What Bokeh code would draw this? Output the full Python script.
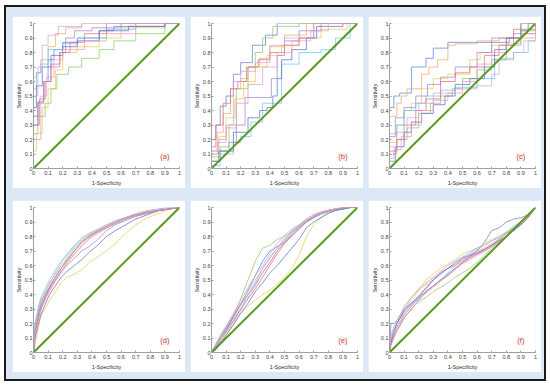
from bokeh.plotting import figure
from bokeh.models import Range1d, FixedTicker, Label, GridBox
from bokeh.embed import file_html
from bokeh.resources import INLINE

PANEL_LABELS = ["(a)", "(b)", "(c)", "(d)", "(e)", "(f)"]
X_LABEL = "1-Specificity"
Y_LABEL = "Sensitivity"
TICKS = [0, 0.1, 0.2, 0.3, 0.4, 0.5, 0.6, 0.7, 0.8, 0.9, 1]
COLORS = ["#5b7fd8", "#f2a46c", "#e6cc4c", "#a57fcc", "#8cc663",
          "#6cc6ec", "#e66a78", "#5a6cc4", "#c9a4e2", "#f095bd"]
E_COLORS = ["#8cc663", "#5b7fd8", "#f2a46c", "#e6cc4c", "#a57fcc",
            "#6cc6ec", "#e66a78", "#5a6cc4", "#c9a4e2", "#f095bd"]

# ---- panel (a): staircase ROC curves (run end x, level) ----
a_x = [
    [0, 0.03, 0.07, 0.1, 0.14, 0.2, 0.3, 0.45, 0.55, 0.9, 1],
    [0, 0.02, 0.05, 0.1, 0.15, 0.22, 0.33, 1],
    [0, 0.02, 0.06, 0.1, 0.15, 0.2, 0.3, 0.45, 0.6, 0.9, 1],
    [0, 0.04, 0.08, 0.12, 0.18, 0.22, 0.28, 0.4, 0.6, 1],
    [0, 0.03, 0.08, 0.12, 0.16, 0.24, 0.33, 0.45, 0.55, 0.7, 0.9, 1],
    [0, 0.02, 0.05, 0.1, 0.2, 0.3, 0.5, 0.7, 1],
    [0, 0.03, 0.07, 0.12, 0.18, 0.25, 0.35, 0.5, 1],
    [0, 0.02, 0.06, 0.12, 0.2, 0.3, 0.45, 0.65, 0.9, 1],
    [0, 0.03, 0.06, 0.1, 0.17, 0.33, 1],
    [0, 0.05, 0.09, 0.14, 0.2, 0.35, 0.5, 0.7, 1],
]
a_y = [
    [0, 0.36, 0.46, 0.6, 0.75, 0.82, 0.87, 0.9, 0.95, 0.98, 1],
    [0, 0.63, 0.66, 0.75, 0.84, 0.93, 0.97, 1],
    [0, 0.12, 0.24, 0.42, 0.55, 0.68, 0.8, 0.84, 0.9, 0.97, 1],
    [0, 0.3, 0.48, 0.6, 0.7, 0.8, 0.9, 0.95, 0.97, 1],
    [0, 0.24, 0.36, 0.45, 0.55, 0.65, 0.7, 0.76, 0.82, 0.88, 0.93, 1],
    [0, 0.55, 0.66, 0.72, 0.82, 0.86, 0.9, 0.96, 1],
    [0, 0.3, 0.45, 0.6, 0.72, 0.8, 0.87, 0.93, 1],
    [0, 0.42, 0.57, 0.7, 0.78, 0.84, 0.88, 0.95, 0.98, 1],
    [0, 0.5, 0.7, 0.85, 0.92, 0.98, 1],
    [0, 0.2, 0.5, 0.63, 0.75, 0.82, 0.88, 0.93, 1],
]

# ---- panel (b) ----
b_x = [
    [0, 0.03, 0.06, 0.1, 0.15, 0.2, 0.28, 0.37, 0.45, 1],
    [0, 0.04, 0.08, 0.13, 0.2, 0.25, 0.33, 0.4, 0.5, 0.65, 1],
    [0, 0.05, 0.1, 0.16, 0.22, 0.3, 0.38, 0.48, 0.6, 0.75, 0.93, 1],
    [0, 0.06, 0.12, 0.17, 0.23, 0.41, 0.45, 0.5, 0.6, 0.75, 1],
    [0, 0.06, 0.12, 0.17, 0.25, 0.3, 0.35, 0.42, 0.6, 1],
    [0, 0.06, 0.15, 0.2, 0.27, 0.35, 0.48, 0.6, 0.75, 0.85, 0.95, 1],
    [0, 0.03, 0.08, 0.13, 0.18, 0.24, 0.32, 0.4, 0.5, 0.6, 0.7, 1],
    [0, 0.05, 0.15, 0.25, 0.33, 0.38, 0.42, 0.45, 0.48, 0.55, 0.65, 0.72, 0.9, 1],
    [0, 0.04, 0.1, 0.15, 0.2, 0.3, 0.4, 0.5, 0.7, 1],
    [0, 0.05, 0.1, 0.17, 0.25, 0.35, 0.45, 0.55, 0.68, 0.8, 1],
]
b_y = [
    [0, 0.2, 0.3, 0.43, 0.5, 0.65, 0.73, 0.85, 0.92, 1],
    [0, 0.12, 0.25, 0.38, 0.55, 0.62, 0.7, 0.76, 0.84, 0.92, 1],
    [0, 0.1, 0.22, 0.35, 0.48, 0.6, 0.7, 0.78, 0.85, 0.9, 0.96, 1],
    [0, 0.05, 0.12, 0.18, 0.3, 0.49, 0.62, 0.78, 0.88, 0.95, 1],
    [0, 0.08, 0.15, 0.3, 0.55, 0.7, 0.8, 0.9, 0.98, 1],
    [0, 0.02, 0.1, 0.18, 0.22, 0.32, 0.45, 0.72, 0.8, 0.82, 0.9, 1],
    [0, 0.15, 0.3, 0.45, 0.55, 0.6, 0.7, 0.75, 0.8, 0.85, 0.9, 1],
    [0, 0.05, 0.12, 0.25, 0.35, 0.4, 0.42, 0.5, 0.62, 0.75, 0.82, 0.9, 0.98, 1],
    [0, 0.1, 0.18, 0.3, 0.6, 0.67, 0.73, 0.85, 0.9, 1],
    [0, 0.12, 0.2, 0.28, 0.45, 0.58, 0.7, 0.8, 0.88, 0.95, 1],
]

# ---- panel (c) ----
c_x = [
    [0, 0.03, 0.07, 0.15, 0.25, 0.3, 0.4, 0.82, 0.9, 0.95, 1],
    [0, 0.05, 0.08, 0.12, 0.22, 0.27, 0.33, 0.4, 0.45, 0.6, 0.75, 1],
    [0, 0.05, 0.1, 0.15, 0.22, 0.3, 0.4, 0.55, 0.62, 0.7, 0.8, 0.9, 1],
    [0, 0.04, 0.1, 0.18, 0.26, 0.35, 0.45, 0.6, 0.7, 0.85, 1],
    [0, 0.05, 0.12, 0.2, 0.28, 0.35, 0.43, 0.5, 0.6, 0.7, 0.8, 0.9, 1],
    [0, 0.05, 0.1, 0.18, 0.25, 0.35, 0.45, 0.6, 0.72, 0.85, 0.95, 1],
    [0, 0.05, 0.1, 0.18, 0.25, 0.35, 0.45, 0.55, 0.65, 0.75, 0.85, 1],
    [0, 0.04, 0.1, 0.15, 0.22, 0.3, 0.38, 0.45, 0.55, 0.65, 0.72, 0.8, 0.9, 1],
    [0, 0.05, 0.12, 0.2, 0.3, 0.45, 0.6, 0.7, 0.75, 0.85, 0.92, 1],
    [0, 0.03, 0.08, 0.15, 0.22, 0.3, 0.4, 0.5, 0.6, 0.7, 0.8, 0.9, 1],
]
c_y = [
    [0, 0.42, 0.5, 0.52, 0.7, 0.76, 0.83, 0.87, 0.9, 0.95, 1],
    [0, 0.36, 0.45, 0.5, 0.55, 0.65, 0.7, 0.75, 0.85, 0.86, 0.88, 0.9],
    [0, 0.18, 0.3, 0.4, 0.45, 0.55, 0.62, 0.65, 0.75, 0.8, 0.85, 0.9, 1],
    [0, 0.22, 0.35, 0.42, 0.5, 0.58, 0.63, 0.7, 0.8, 0.9, 0.93],
    [0, 0.1, 0.2, 0.28, 0.38, 0.45, 0.5, 0.55, 0.62, 0.68, 0.75, 0.85, 0.95],
    [0, 0.24, 0.3, 0.4, 0.45, 0.5, 0.54, 0.56, 0.62, 0.75, 0.8, 0.88],
    [0, 0.12, 0.2, 0.3, 0.4, 0.48, 0.6, 0.66, 0.7, 0.78, 0.85, 0.96],
    [0, 0.05, 0.15, 0.25, 0.32, 0.38, 0.44, 0.5, 0.58, 0.62, 0.7, 0.82, 0.9, 1],
    [0, 0.15, 0.25, 0.35, 0.45, 0.52, 0.55, 0.57, 0.65, 0.76, 0.8, 0.88],
    [0, 0.07, 0.13, 0.22, 0.3, 0.4, 0.47, 0.52, 0.6, 0.72, 0.8, 0.86, 0.93],
]

# ---- panel (d): larger samples ----
d_grid = [0, 0.01, 0.03, 0.05, 0.08, 0.11, 0.15, 0.19, 0.23, 0.28, 0.33,
          0.38, 0.44, 0.5, 0.56, 0.63, 0.7, 0.78, 0.86, 0.93, 1]
d_y = [
    [0, 0.15, 0.25, 0.33, 0.4, 0.45, 0.52, 0.58, 0.64, 0.7, 0.76, 0.8, 0.83, 0.86, 0.89, 0.92, 0.94, 0.96, 0.98, 0.99, 1],
    [0, 0.1, 0.22, 0.3, 0.37, 0.43, 0.5, 0.56, 0.62, 0.68, 0.74, 0.79, 0.83, 0.87, 0.9, 0.93, 0.95, 0.97, 0.98, 0.99, 1],
    [0, 0.05, 0.15, 0.25, 0.3, 0.36, 0.42, 0.48, 0.52, 0.54, 0.57, 0.62, 0.66, 0.7, 0.75, 0.82, 0.88, 0.93, 0.96, 0.99, 1],
    [0, 0.12, 0.22, 0.3, 0.38, 0.44, 0.5, 0.56, 0.6, 0.65, 0.7, 0.73, 0.78, 0.84, 0.88, 0.91, 0.94, 0.96, 0.98, 0.99, 1],
    [0, 0.18, 0.27, 0.35, 0.41, 0.48, 0.54, 0.6, 0.65, 0.72, 0.77, 0.81, 0.84, 0.86, 0.89, 0.92, 0.95, 0.97, 0.98, 0.99, 1],
    [0, 0.2, 0.3, 0.38, 0.44, 0.5, 0.57, 0.63, 0.68, 0.74, 0.79, 0.82, 0.85, 0.88, 0.91, 0.93, 0.95, 0.97, 0.99, 1, 1],
    [0, 0.14, 0.24, 0.31, 0.38, 0.45, 0.52, 0.58, 0.63, 0.7, 0.76, 0.8, 0.84, 0.87, 0.9, 0.93, 0.95, 0.97, 0.98, 0.99, 1],
    [0, 0.1, 0.18, 0.26, 0.33, 0.4, 0.46, 0.52, 0.56, 0.6, 0.64, 0.69, 0.74, 0.8, 0.84, 0.88, 0.92, 0.95, 0.98, 0.99, 1],
    [0, 0.16, 0.28, 0.36, 0.42, 0.47, 0.55, 0.62, 0.67, 0.73, 0.78, 0.82, 0.85, 0.88, 0.9, 0.93, 0.96, 0.98, 0.99, 1, 1],
    [0, 0.12, 0.2, 0.29, 0.36, 0.42, 0.49, 0.55, 0.61, 0.68, 0.73, 0.78, 0.82, 0.86, 0.89, 0.92, 0.94, 0.96, 0.98, 0.99, 1],
]

# ---- panel (e) ----
e_grid = [0, 0.03, 0.06, 0.1, 0.15, 0.2, 0.25, 0.3, 0.35, 0.4, 0.45, 0.5,
          0.55, 0.6, 0.65, 0.7, 0.75, 0.8, 0.85, 0.9, 0.95, 1]
e_y = [
    [0, 0.03, 0.08, 0.15, 0.25, 0.37, 0.5, 0.63, 0.72, 0.74, 0.78, 0.8, 0.83, 0.86, 0.9, 0.93, 0.96, 0.98, 0.99, 0.99, 1, 1],
    [0, 0.04, 0.1, 0.16, 0.24, 0.33, 0.43, 0.53, 0.63, 0.7, 0.73, 0.76, 0.8, 0.85, 0.9, 0.93, 0.96, 0.97, 0.98, 0.99, 1, 1],
    [0, 0.06, 0.12, 0.18, 0.26, 0.34, 0.42, 0.5, 0.58, 0.65, 0.72, 0.79, 0.84, 0.88, 0.92, 0.95, 0.97, 0.98, 0.99, 1, 1, 1],
    [0, 0.02, 0.06, 0.12, 0.2, 0.27, 0.32, 0.36, 0.4, 0.43, 0.47, 0.52, 0.58, 0.67, 0.8, 0.88, 0.93, 0.96, 0.98, 0.99, 1, 1],
    [0, 0.05, 0.1, 0.17, 0.25, 0.33, 0.4, 0.47, 0.55, 0.62, 0.7, 0.76, 0.82, 0.87, 0.91, 0.94, 0.96, 0.98, 0.99, 1, 1, 1],
    [0, 0.05, 0.1, 0.15, 0.22, 0.3, 0.4, 0.48, 0.58, 0.66, 0.72, 0.78, 0.84, 0.88, 0.9, 0.93, 0.95, 0.97, 0.98, 0.99, 1, 1],
    [0, 0.03, 0.08, 0.14, 0.22, 0.3, 0.37, 0.44, 0.52, 0.6, 0.68, 0.75, 0.81, 0.86, 0.9, 0.94, 0.96, 0.98, 0.99, 1, 1, 1],
    [0, 0.02, 0.06, 0.12, 0.19, 0.27, 0.34, 0.42, 0.48, 0.55, 0.6, 0.66, 0.72, 0.78, 0.86, 0.9, 0.93, 0.96, 0.98, 0.99, 1, 1],
    [0, 0.06, 0.11, 0.18, 0.27, 0.36, 0.45, 0.53, 0.6, 0.68, 0.75, 0.81, 0.85, 0.88, 0.92, 0.95, 0.97, 0.98, 0.99, 1, 1, 1],
    [0, 0.04, 0.08, 0.14, 0.21, 0.29, 0.38, 0.46, 0.55, 0.62, 0.7, 0.77, 0.83, 0.87, 0.91, 0.94, 0.96, 0.98, 0.99, 1, 1, 1],
]

# ---- panel (f) ----
f_grid = [0, 0.01, 0.03, 0.05, 0.08, 0.1, 0.15, 0.2, 0.25, 0.3, 0.35, 0.4,
          0.45, 0.5, 0.55, 0.6, 0.65, 0.7, 0.75, 0.8, 0.85, 0.9, 0.95, 1]
f_y = [
    [0, 0.2, 0.2, 0.22, 0.27, 0.3, 0.34, 0.38, 0.42, 0.46, 0.5, 0.54, 0.58, 0.62, 0.66, 0.7, 0.76, 0.84, 0.86, 0.9, 0.92, 0.93, 0.95, 1],
    [0, 0.08, 0.15, 0.2, 0.25, 0.3, 0.38, 0.43, 0.47, 0.51, 0.55, 0.58, 0.61, 0.64, 0.67, 0.7, 0.72, 0.75, 0.78, 0.82, 0.85, 0.88, 0.93, 1],
    [0, 0.1, 0.15, 0.2, 0.26, 0.3, 0.36, 0.43, 0.5, 0.54, 0.58, 0.61, 0.64, 0.68, 0.7, 0.72, 0.75, 0.78, 0.8, 0.83, 0.86, 0.9, 0.94, 1],
    [0, 0.06, 0.12, 0.17, 0.22, 0.26, 0.32, 0.38, 0.45, 0.5, 0.55, 0.58, 0.6, 0.63, 0.66, 0.68, 0.7, 0.73, 0.77, 0.8, 0.84, 0.88, 0.93, 1],
    [0, 0.08, 0.12, 0.15, 0.2, 0.24, 0.3, 0.35, 0.38, 0.42, 0.45, 0.48, 0.52, 0.55, 0.58, 0.62, 0.67, 0.72, 0.76, 0.8, 0.85, 0.9, 0.94, 1],
    [0, 0.1, 0.16, 0.2, 0.25, 0.28, 0.33, 0.37, 0.42, 0.46, 0.5, 0.55, 0.6, 0.65, 0.69, 0.72, 0.74, 0.77, 0.8, 0.83, 0.87, 0.9, 0.94, 1],
    [0, 0.05, 0.1, 0.15, 0.2, 0.24, 0.3, 0.36, 0.42, 0.46, 0.5, 0.53, 0.58, 0.62, 0.65, 0.68, 0.71, 0.74, 0.78, 0.82, 0.85, 0.89, 0.94, 1],
    [0, 0.07, 0.14, 0.2, 0.25, 0.29, 0.34, 0.39, 0.44, 0.5, 0.54, 0.58, 0.62, 0.65, 0.67, 0.69, 0.71, 0.74, 0.77, 0.8, 0.84, 0.88, 0.93, 1],
    [0, 0.12, 0.18, 0.22, 0.27, 0.32, 0.38, 0.44, 0.48, 0.52, 0.56, 0.6, 0.63, 0.66, 0.68, 0.71, 0.74, 0.77, 0.79, 0.82, 0.86, 0.9, 0.94, 1],
    [0, 0.09, 0.14, 0.18, 0.23, 0.27, 0.32, 0.37, 0.41, 0.45, 0.49, 0.53, 0.57, 0.61, 0.64, 0.67, 0.7, 0.73, 0.76, 0.8, 0.84, 0.88, 0.93, 1],
]

DIAG = [0, 1]

BG_BLUE = "#dce8f5"
W, H = 173, 172


def make_panel(label, margin):
    p = figure(width=W, height=H, output_backend="svg", toolbar_location=None,
               x_range=Range1d(0, 1), y_range=Range1d(0, 1),
               min_border_left=18, min_border_right=6,
               min_border_top=7, min_border_bottom=20,
               background_fill_color="white", border_fill_color="white",
               outline_line_color=None, margin=margin)
    p.grid.visible = False
    for ax in (p.xaxis[0], p.yaxis[0]):
        ax.ticker = FixedTicker(ticks=TICKS)
        ax.major_label_overrides = {0: "0", 1: "1"}
        ax.axis_line_color = "#a0a0a0"
        ax.axis_line_width = 1
        ax.major_tick_line_color = "#a0a0a0"
        ax.major_tick_in = 2
        ax.major_tick_out = 0
        ax.minor_tick_line_color = None
        ax.major_label_text_font = "Liberation Sans"
        ax.major_label_text_font_size = "5.5px"
        ax.major_label_text_color = "#404040"
        ax.major_label_standoff = 1
        ax.axis_label_text_font = "Liberation Sans"
        ax.axis_label_text_font_size = "5.5px"
        ax.axis_label_text_font_style = "normal"
        ax.axis_label_text_color = "#303030"
        ax.axis_label_standoff = 0
    p.xaxis.axis_label = X_LABEL
    p.yaxis.axis_label = Y_LABEL
    p.xaxis[0].major_label_standoff = 2
    p.xaxis[0].axis_label_standoff = 2
    p.add_layout(Label(x=0.9, y=0.08, text=label, text_color="#c0504d",
                       text_font="Liberation Sans", text_font_size="7.5px",
                       text_align="center", text_baseline="middle",
                       background_fill_color="#fbeaea", background_fill_alpha=0.8))
    return p


def close_curve(xs, ys):
    xs = list(xs)
    ys = list(ys)
    if ys[-1] < 1:
        xs.append(xs[-1])
        ys.append(1)
    return xs, ys


margins = [(9, 0, 0, 6), (9, 0, 0, 0), (9, 3, 0, 0),
           (0, 0, 7, 6), (0, 0, 7, 0), (0, 3, 7, 0)]
figs = [make_panel(PANEL_LABELS[i], margins[i]) for i in range(6)]

for p, xs_list, ys_list in ((figs[0], a_x, a_y), (figs[1], b_x, b_y), (figs[2], c_x, c_y)):
    for i, (xs, ys) in enumerate(zip(xs_list, ys_list)):
        xx, yy = close_curve(xs, ys)
        p.step(xx, yy, mode="before", line_color=COLORS[i % len(COLORS)],
               line_width=0.9, line_alpha=0.8)

for p, grid, ys_list, cols in ((figs[3], d_grid, d_y, COLORS), (figs[4], e_grid, e_y, E_COLORS),
                               (figs[5], f_grid, f_y, COLORS)):
    for i, ys in enumerate(ys_list):
        p.line(grid, ys, line_color=cols[i % len(cols)], line_width=0.9, line_alpha=0.8)

for p in figs:
    p.line(DIAG, DIAG, line_color="#5a9a1e", line_width=2)

layout = GridBox(children=[(figs[0], 0, 0), (figs[1], 0, 1), (figs[2], 0, 2),
                           (figs[3], 1, 0), (figs[4], 1, 1), (figs[5], 1, 2)],
                 spacing=(12, 5),
                 styles={"background-color": BG_BLUE, "border": "2px solid #1a1a1a",
                         "position": "absolute", "left": "4px", "top": "5px"})

open("out.html", "w").write(file_html(layout, INLINE))
